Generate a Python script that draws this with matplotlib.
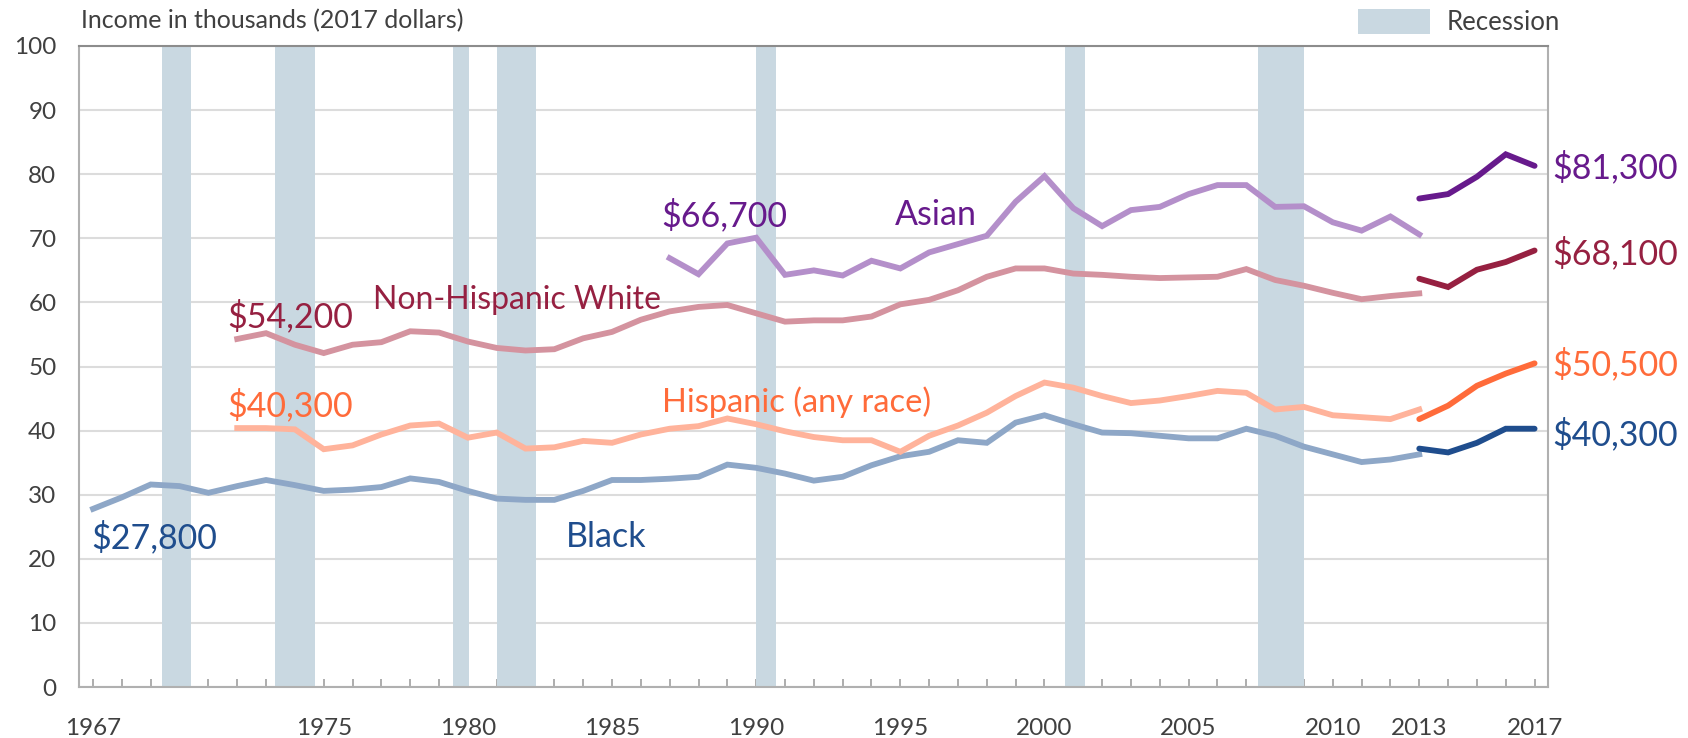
import numpy as np
import matplotlib
matplotlib.use("Agg")
import matplotlib.pyplot as plt
from matplotlib.patches import Patch

plt.rcParams['font.family'] = ['Lato', 'DejaVu Sans']

# ---- data (thousands of 2017 dollars) ----
black_years = np.arange(1967, 2014)
black_old = [27.8, 29.6, 31.6, 31.35, 30.3, 31.35, 32.3, 31.5, 30.6, 30.8,
             31.2, 32.55, 32.0, 30.6, 29.4, 29.2, 29.2, 30.6, 32.3, 32.3,
             32.5, 32.8, 34.7, 34.2, 33.3, 32.2, 32.8, 34.6, 36.0, 36.7,
             38.5, 38.1, 41.25, 42.4, 41.0, 39.7, 39.6, 39.2, 38.8, 38.8,
             40.3, 39.2, 37.5, 36.3, 35.1, 35.5, 36.3]

hisp_years = np.arange(1972, 2014)
hisp_old = [40.4, 40.4, 40.2, 37.1, 37.7, 39.4, 40.8, 41.1, 38.9, 39.7,
            37.2, 37.4, 38.4, 38.1, 39.4, 40.3, 40.7, 41.9, 41.0, 39.9,
            39.0, 38.5, 38.5, 36.7, 39.2, 40.8, 42.8, 45.4, 47.5, 46.7,
            45.4, 44.3, 44.7, 45.4, 46.2, 45.9, 43.3, 43.7, 42.4, 42.1,
            41.8, 43.3]

white_years = np.arange(1972, 2014)
white_old = [54.3, 55.2, 53.4, 52.1, 53.4, 53.8, 55.5, 55.3, 53.9, 52.9,
             52.5, 52.7, 54.4, 55.4, 57.3, 58.6, 59.3, 59.6, 58.3, 57.0,
             57.2, 57.2, 57.8, 59.7, 60.4, 61.9, 64.0, 65.3, 65.3, 64.5,
             64.3, 64.0, 63.8, 63.9, 64.0, 65.2, 63.5, 62.6, 61.5, 60.5,
             61.0, 61.4]

asian_years = np.arange(1987, 2014)
asian_old = [66.9, 64.4, 69.2, 70.1, 64.3, 65.0, 64.2, 66.5, 65.3, 67.8,
             69.1, 70.4, 75.7, 79.7, 74.7, 71.9, 74.4, 74.9, 76.9, 78.3,
             78.3, 74.9, 75.0, 72.5, 71.2, 73.4, 70.6]

# redesigned series 2013-2017
new_years = np.arange(2013, 2018)
asian_new = [76.2, 76.9, 79.6, 83.1, 81.3]
white_new = [63.7, 62.4, 65.1, 66.3, 68.1]
hisp_new = [41.8, 43.9, 47.0, 48.9, 50.5]
black_new = [37.2, 36.6, 38.1, 40.3, 40.3]

recessions = [(1969.4, 1970.4), (1973.3, 1974.7), (1979.5, 1980.05),
              (1981.0, 1982.35), (1990.0, 1990.7), (2000.7, 2001.4),
              (2007.4, 2009.0)]

xtick_years = [1967, 1975, 1980, 1985, 1990, 1995, 2000, 2005, 2010, 2013, 2017]

# colours: (light, dark)
c_asian = ('#b48fca', '#671a8c')
c_white = ('#d4939f', '#962041')
c_hisp = ('#ffb39b', '#ff6b3a')
c_black = ('#8ea7c7', '#1f4d8d')

fig = plt.figure(figsize=(16.88, 7.38), dpi=100)
ax = fig.add_axes([0.0466, 0.069, 0.8702, 0.8687])

for start, end in recessions:
    ax.axvspan(start, end, color='#c9d8e1', lw=0, zorder=1)

ax.set_xlim(1966.5, 2017.45)
ax.set_ylim(0, 100)
ax.set_yticks(range(0, 101, 10))
ax.yaxis.grid(True, color='#dcdcdc', lw=1.5, zorder=0)
ax.set_axisbelow(True)

series = [
    (black_years, black_old, black_new, c_black),
    (hisp_years, hisp_old, hisp_new, c_hisp),
    (white_years, white_old, white_new, c_white),
    (asian_years, asian_old, asian_new, c_asian),
]
for yrs, old, new, (light, dark) in series:
    ax.plot(yrs, old, color=light, lw=4.2, zorder=3, solid_joinstyle='miter')
    ax.plot(new_years, new, color=dark, lw=4.2, zorder=3,
            solid_capstyle='round', solid_joinstyle='miter')

# axes styling
for side in ['left', 'bottom', 'right']:
    ax.spines[side].set_color('#b0b0b0')
    ax.spines[side].set_linewidth(1.5)
ax.spines['top'].set_color('#8c8c8c')
ax.spines['top'].set_linewidth(1.5)

ax.set_xticks(xtick_years)
ax.set_xticks(np.arange(1967, 2018), minor=True)
ax.tick_params(axis='x', which='both', direction='in', length=6, width=1.2,
               color='#a0a0a0', labelsize=17.5, labelcolor='#404040', pad=22)
ax.tick_params(axis='y', length=0, labelsize=17.5, labelcolor='#404040', pad=16)

# series labels
lab = dict(fontsize=24.5, va='center', ha='left')
ax.text(1986.7, 73.6, '$66,700', color=c_asian[1], **lab)
ax.text(1994.8, 73.6, 'Asian', color=c_asian[1], **lab)
ax.text(1971.65, 57.8, '$54,200', color=c_white[1], **lab)
ax.text(1976.7, 60.4, 'Non-Hispanic White', color=c_white[1],
        fontsize=23, va='center', ha='left')
ax.text(1971.65, 44.0, '$40,300', color=c_hisp[1], **lab)
ax.text(1986.75, 44.4, 'Hispanic (any race)', color=c_hisp[1],
        fontsize=23.5, va='center', ha='left')
ax.text(1966.95, 23.4, '$27,800', color=c_black[1], **lab)
ax.text(1983.4, 23.4, 'Black', color=c_black[1], **lab)

right = dict(fontsize=24.5, va='center', ha='left', clip_on=False)
ax.text(2017.6, 81.1, '$81,300', color=c_asian[1], **right)
ax.text(2017.6, 67.6, '$68,100', color=c_white[1], **right)
ax.text(2017.6, 50.4, '$50,500', color=c_hisp[1], **right)
ax.text(2017.6, 39.4, '$40,300', color=c_black[1], **right)

fig.text(81 / 1688, 1 - 21 / 738, 'Income in thousands (2017 dollars)',
         fontsize=18, color='#404040', va='center', ha='left')

fig.legend(handles=[Patch(facecolor='#c9d8e1', edgecolor='none', label='Recession')],
           loc='center right', bbox_to_anchor=(1560 / 1688, 1 - 22 / 738),
           frameon=False, fontsize=18.5, labelcolor='#404040',
           handlelength=2.8, handleheight=1.15, handletextpad=0.65,
           borderaxespad=0, borderpad=0)

fig.savefig('out.png', dpi=100)
